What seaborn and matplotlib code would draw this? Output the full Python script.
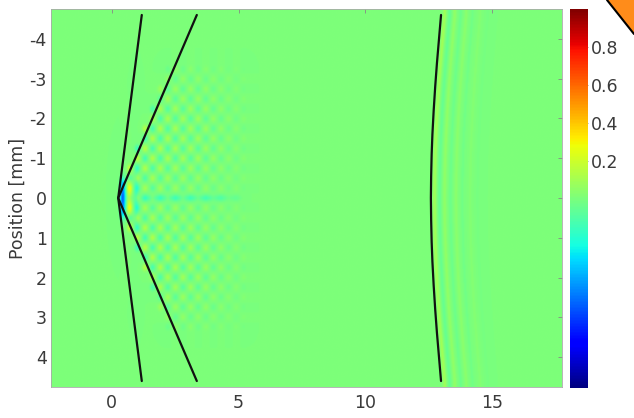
import numpy as np
import pandas as pd
import matplotlib
matplotlib.use("Agg")
import matplotlib.pyplot as plt
import seaborn as sns
from matplotlib.patches import Polygon

# ---------------- data ----------------
x_ticks = [0, 5, 10, 15]
y_ticks = [-4, -3, -2, -1, 0, 1, 2, 3, 4]
cbar_ticks = [0.2, 0.4, 0.6, 0.8]
x_range = [-2.4, 17.75]
y_range = [-4.75, 4.75]
c_range = [-1.0, 1.0]

# straight lines from the source point (x, y in mm)
line1_x = [1.18, 0.25, 1.18]
line1_y = [-4.6, 0.0, 4.6]
line2_x = [3.35, 0.25, 3.35]
line2_y = [-4.6, 0.0, 4.6]
# curved front
arc_x = [12.98, 12.9, 12.82, 12.75, 12.69, 12.64, 12.61, 12.59, 12.58,
         12.59, 12.61, 12.64, 12.69, 12.75, 12.82, 12.9, 12.98]
arc_y = [-4.6, -4.0, -3.4, -2.8, -2.2, -1.6, -1.1, -0.55, 0.0,
         0.55, 1.1, 1.6, 2.2, 2.8, 3.4, 4.0, 4.6]

# source spot near the apex: x, y, amplitude, sigma_x, sigma_y
spot_x = [0.42, 0.68, 0.95, 0.42, 0.42]
spot_y = [0.0, 0.0, 0.0, -0.35, 0.35]
spot_amp = [-0.55, 0.2, -0.13, -0.2, -0.2]
spot_sx = [0.08, 0.07, 0.07, 0.07, 0.07]
spot_sy = [0.25, 0.35, 0.45, 0.12, 0.12]

# interference texture in the fan
wave_x = [0.7, 1.0, 1.3, 1.6, 1.9, 2.2, 2.5, 2.8, 3.1, 3.4, 3.7, 4.0, 4.3, 4.6, 4.9, 5.2]
wave_x_amp = [0.17, 0.15, 0.13, 0.12, 0.11, 0.10, 0.095, 0.09, 0.085, 0.08, 0.07, 0.06, 0.05, 0.04, 0.03, 0.025]
wave_y = [-3.25, -3.0, -2.75, -2.5, -2.25, -2.0, -1.75, -1.5, -1.25, -1.0, -0.75, -0.5, -0.25, 0.0,
          0.25, 0.5, 0.75, 1.0, 1.25, 1.5, 1.75, 2.0, 2.25, 2.5, 2.75, 3.0, 3.25]
wave_y_amp = [0.4, 0.55, 0.7, 0.8, 0.9, 0.95, 1.0, 1.0, 1.0, 1.0, 0.9, 0.8, 0.7, 0.6,
              0.7, 0.8, 0.9, 1.0, 1.0, 1.0, 1.0, 0.95, 0.9, 0.8, 0.7, 0.55, 0.4]

# faint horizontal band along the axis
band_x0, band_x1, band_amp = 1.0, 5.5, -0.09

# stripes trailing the curved front: offset from the front (mm), amplitude
stripe_off = [0.15, 0.35, 0.55, 0.78, 1.0, 1.25, 1.55, 1.85]
stripe_amp = [0.09, -0.05, 0.05, -0.035, 0.035, -0.025, 0.02, -0.015]

# ---------------- build the field image ----------------
nx, ny = 700, 340
gx = np.linspace(x_range[0], x_range[1], nx)
gy = np.linspace(y_range[0], y_range[1], ny)
X, Y = np.meshgrid(gx, gy)
F = np.zeros_like(X)

for cx, cy, a, sx, sy in zip(spot_x, spot_y, spot_amp, spot_sx, spot_sy):
    F += a * np.exp(-((X - cx) ** 2 / (2 * sx ** 2) + (Y - cy) ** 2 / (2 * sy ** 2)))

for i, (cx, ax_amp) in enumerate(zip(wave_x, wave_x_amp)):
    for j, (cy, ay_amp) in enumerate(zip(wave_y, wave_y_amp)):
        if abs(cy) > 1.7 * (cx - 0.3) + 0.1:
            continue
        sign = 1 if (i + j) % 2 == 0 else -1
        F += sign * ax_amp * ay_amp * np.exp(-((X - cx) ** 2 / (2 * 0.075 ** 2) + (Y - cy) ** 2 / (2 * 0.065 ** 2)))

band_env = np.clip((X - band_x0) / 0.3, 0, 1) * np.clip((band_x1 - X) / 1.5, 0, 1)
F += band_amp * band_env * np.exp(-(Y ** 2) / (2 * 0.06 ** 2))

front = np.interp(gy, arc_y, arc_x, left=arc_x[0], right=arc_x[-1])[:, None]
for off, a in zip(stripe_off, stripe_amp):
    F += a * np.exp(-((X - front - off) ** 2) / (2 * 0.05 ** 2))

# ---------------- figure ----------------
sns.set_theme(style="white")
plt.rcParams["font.family"] = ["DejaVu Sans"]
plt.rcParams["axes.unicode_minus"] = False
fig = plt.figure(figsize=(6.34, 4.18), dpi=100)
ax = fig.add_axes([51 / 634, 1 - 387 / 418, (562 - 51) / 634, (387 - 9) / 418])
cax = fig.add_axes([570 / 634, 1 - 388 / 418, 18 / 634, (388 - 9) / 418])

im = ax.imshow(F, cmap="jet", vmin=c_range[0], vmax=c_range[1], aspect="auto",
               extent=(x_range[0], x_range[1], y_range[1], y_range[0]),
               interpolation="bilinear")

lines = pd.DataFrame({
    "x": line1_x + line2_x + arc_x,
    "y": line1_y + line2_y + arc_y,
    "id": ["l1"] * len(line1_x) + ["l2"] * len(line2_x) + ["arc"] * len(arc_x),
})
for key, grp in lines.groupby("id"):
    sns.lineplot(data=grp, x="x", y="y", sort=False, estimator=None, ax=ax,
                 color="#111111", lw=1.6, legend=False)

ax.set_xlim(x_range)
ax.set_ylim(y_range[1], y_range[0])
ax.set_xticks(x_ticks)
ax.set_yticks(y_ticks)
ax.set_xlabel("")
ax.set_ylabel("Position [mm]", fontsize=12.5, color="#3a3a3a", labelpad=2)
ax.tick_params(direction="in", top=True, right=True, length=3, width=0.6,
               colors="#888888", labelcolor="#3a3a3a", labelsize=12.5, pad=3)
ax.tick_params(axis="x", pad=5)
for s in ax.spines.values():
    s.set_color("#aaaaaa")
    s.set_linewidth(0.6)

cb = fig.colorbar(im, cax=cax, ticks=cbar_ticks)
cb.outline.set_visible(False)
cb.ax.tick_params(direction="in", length=3, width=0.6, colors="#888888",
                  labelcolor="#3a3a3a", labelsize=12.5, pad=2)
cb.ax.set_yticklabels([f"{t:.1f}" for t in cbar_ticks])

# orange corner mark at top right
tri = Polygon([[607 / 634, 1.0], [1.0, 1.0], [1.0, 1 - 34 / 418]], closed=True,
              transform=fig.transFigure, facecolor="#ff8c1a", edgecolor="none", zorder=10)
fig.patches.append(tri)
fig.add_artist(plt.Line2D([607 / 634, 1.0], [1.0, 1 - 34 / 418], transform=fig.transFigure,
                          color="black", lw=1.5, zorder=11))

fig.savefig("out.png", dpi=100)
